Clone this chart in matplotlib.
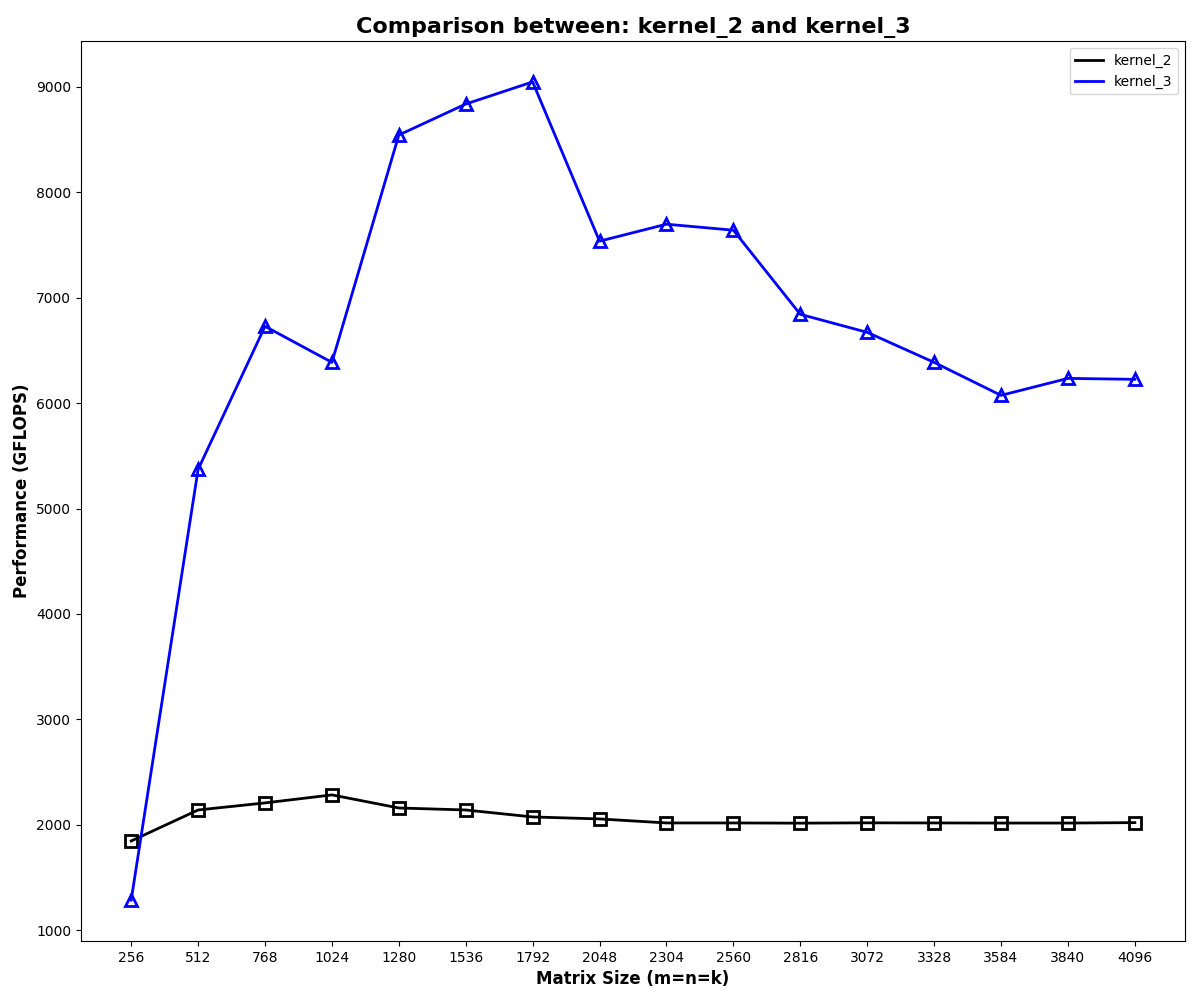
import numpy as np
import matplotlib
matplotlib.use("Agg")
import matplotlib.pyplot as plt

sizes = [256, 512, 768, 1024, 1280, 1536, 1792, 2048, 2304, 2560, 2816, 3072, 3328, 3584, 3840, 4096]

kernel_2 = [1846, 2140, 2207, 2283, 2159, 2140, 2074, 2055, 2017, 2017,
            2015, 2018, 2017, 2016, 2016, 2020]

kernel_3 = [1285, 5371, 6729, 6387, 8544, 8838, 9048, 7537, 7698, 7641,
            6843, 6672, 6387, 6074, 6235, 6226]

def main():
    fig, ax = plt.subplots(figsize=(12, 10), dpi=100)

    x = np.arange(len(sizes))

    ax.plot(x, kernel_2, color="black", linewidth=2, label="kernel_2")
    ax.plot(x, kernel_2, linestyle="none", marker="s", markersize=8,
            markerfacecolor="none", markeredgecolor="black", markeredgewidth=2)

    ax.plot(x, kernel_3, color="blue", linewidth=2, label="kernel_3")
    ax.plot(x, kernel_3, linestyle="none", marker="^", markersize=9,
            markerfacecolor="none", markeredgecolor="blue", markeredgewidth=2)

    ax.set_xticks(x)
    ax.set_xticklabels([str(s) for s in sizes])

    ax.set_title("Comparison between: kernel_2 and kernel_3", fontsize=16, fontweight="bold")
    ax.set_xlabel("Matrix Size (m=n=k)", fontsize=12, fontweight="bold")
    ax.set_ylabel("Performance (GFLOPS)", fontsize=12, fontweight="bold")
    ax.legend(loc="upper right")

    fig.subplots_adjust(left=0.0675, right=0.9875, top=0.959, bottom=0.059)
    fig.savefig("out.png")

main()
